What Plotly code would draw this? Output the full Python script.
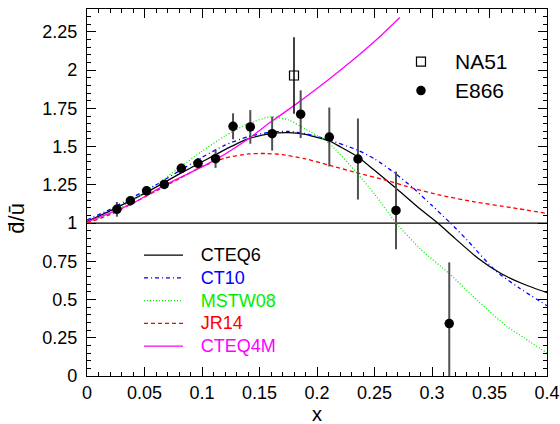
import plotly.graph_objects as go

# ---- data ----
e866_x = [0.026, 0.0377, 0.0518, 0.0672, 0.082, 0.0965, 0.1118, 0.127, 0.142, 0.161, 0.1858, 0.2107, 0.2356, 0.2687, 0.315]
e866_y = [1.09, 1.146, 1.211, 1.253, 1.358, 1.391, 1.421, 1.633, 1.629, 1.585, 1.712, 1.563, 1.419, 1.083, 0.343]
e866_err = [0.048, 0.03, 0.03, 0.03, 0.03, 0.035, 0.06, 0.085, 0.11, 0.111, 0.156, 0.193, 0.265, 0.254, 0.40]

na51_x = [0.18]
na51_y = [1.965]
na51_err = [0.25]

cteq6_x = [0, 0.02, 0.04, 0.06, 0.08, 0.10, 0.12, 0.14, 0.16, 0.175, 0.19, 0.20, 0.21, 0.22, 0.235, 0.25, 0.27, 0.29, 0.305, 0.32, 0.34, 0.36, 0.38, 0.40]
cteq6_y = [1.01, 1.08, 1.155, 1.235, 1.32, 1.40, 1.48, 1.55, 1.585, 1.592, 1.58, 1.56, 1.54, 1.50, 1.435, 1.345, 1.22, 1.09, 1.0, 0.90, 0.77, 0.67, 0.60, 0.545]

ct10_x = [0, 0.02, 0.04, 0.06, 0.08, 0.10, 0.12, 0.14, 0.16, 0.175, 0.19, 0.21, 0.235, 0.25, 0.268, 0.284, 0.30, 0.316, 0.33, 0.355, 0.375, 0.40]
ct10_y = [1.02, 1.09, 1.17, 1.25, 1.34, 1.43, 1.51, 1.565, 1.595, 1.60, 1.585, 1.545, 1.478, 1.42, 1.325, 1.227, 1.115, 1.0, 0.893, 0.69, 0.58, 0.46]

mstw08_x = [0, 0.02, 0.04, 0.06, 0.08, 0.10, 0.12, 0.14, 0.16, 0.175, 0.19, 0.21, 0.235, 0.25, 0.27, 0.29, 0.315, 0.34, 0.365, 0.38, 0.40]
mstw08_y = [1.0, 1.065, 1.15, 1.25, 1.36, 1.47, 1.57, 1.65, 1.695, 1.675, 1.615, 1.525, 1.325, 1.19, 0.99, 0.83, 0.67, 0.49, 0.325, 0.25, 0.15]

jr14_x = [0, 0.02, 0.04, 0.06, 0.08, 0.10, 0.12, 0.14, 0.155, 0.17, 0.19, 0.21, 0.235, 0.26, 0.284, 0.307, 0.336, 0.37, 0.40]
jr14_y = [1.0, 1.055, 1.13, 1.21, 1.29, 1.37, 1.425, 1.452, 1.455, 1.448, 1.42, 1.38, 1.328, 1.28, 1.227, 1.183, 1.14, 1.10, 1.063]

cteq4m_x = [0, 0.02, 0.04, 0.0667, 0.09, 0.112, 0.142, 0.16, 0.18, 0.20, 0.22, 0.24, 0.255, 0.272]
cteq4m_y = [1.008, 1.065, 1.13, 1.245, 1.33, 1.415, 1.56, 1.662, 1.768, 1.88, 1.998, 2.122, 2.222, 2.345]

unity_x = [0, 0.4]
unity_y = [1, 1]

x_ticks = [0, 0.05, 0.1, 0.15, 0.2, 0.25, 0.3, 0.35, 0.4]
x_tick_text = ["0", "0.05", "0.1", "0.15", "0.2", "0.25", "0.3", "0.35", "0.4"]
y_ticks = [0, 0.25, 0.5, 0.75, 1, 1.25, 1.5, 1.75, 2, 2.25]
y_tick_text = ["0", "0.25", "0.5", "0.75", "1", "1.25", "1.5", "1.75", "2", "2.25"]

FONT = "Liberation Sans, Arial, sans-serif"

fig = go.Figure()

fig.add_trace(go.Scatter(x=unity_x, y=unity_y, mode="lines", line=dict(color="black", width=1.2),
                         showlegend=False, hoverinfo="skip"))

curves = [
    ("CTEQ6", cteq6_x, cteq6_y, "#000000", "solid"),
    ("CT10", ct10_x, ct10_y, "#0000ff", "4px,3px,1px,3px"),
    ("MSTW08", mstw08_x, mstw08_y, "#00ee00", "1px,2px"),
    ("JR14", jr14_x, jr14_y, "#ff0000", "4px,3px"),
    ("CTEQ4M", cteq4m_x, cteq4m_y, "#ff00ff", "solid"),
]
for name, xs, ys, col, dash in curves:
    fig.add_trace(go.Scatter(
        x=xs, y=ys, mode="lines", line=dict(color=col, width=1.3, dash=dash, shape="spline", smoothing=0.6),
        name=f'\u2002\u2004<span style="color:{col};font-size:18px">{name}</span>', legend="legend"))

fig.add_trace(go.Scatter(
    x=na51_x, y=na51_y, mode="markers", name='\u2005<span style="font-size:21px">NA51</span>', legend="legend2",
    marker=dict(symbol="square-open", size=9, color="black", line=dict(width=1.2)),
    error_y=dict(type="data", array=na51_err, visible=True, color="black", thickness=1.5, width=0)))

fig.add_trace(go.Scatter(
    x=e866_x, y=e866_y, mode="markers", name='\u2005<span style="font-size:21px">E866</span>', legend="legend2",
    marker=dict(symbol="circle", size=9.5, color="black"),
    error_y=dict(type="data", array=e866_err, visible=True, color="#505050", thickness=2, width=0)))

axis_common = dict(
    showline=True, linecolor="black", linewidth=1.2, mirror="allticks",
    ticks="inside", ticklen=9, tickwidth=1, tickcolor="black",
    showgrid=False, zeroline=False,
    tickfont=dict(family=FONT, size=18, color="black"),
)

fig.update_xaxes(range=[0, 0.4], tickmode="array", tickvals=x_ticks, ticktext=x_tick_text,
                 minor=dict(dtick=0.01, ticks="inside", ticklen=4, tickcolor="black", tickwidth=1),
                 **axis_common)
fig.update_yaxes(range=[0, 2.4], tickmode="array", tickvals=y_ticks, ticktext=y_tick_text,
                 ticklabelstandoff=5,
                 minor=dict(dtick=0.05, ticks="inside", ticklen=4, tickcolor="black", tickwidth=1),
                 **axis_common)

fig.update_layout(
    width=560, height=424,
    margin=dict(l=87, r=13, t=9, b=48, autoexpand=False),
    paper_bgcolor="white", plot_bgcolor="white",
    font=dict(family=FONT, color="black"),
    legend=dict(x=0.113, y=0.374, xanchor="left", yanchor="top", bgcolor="rgba(0,0,0,0)",
                font=dict(family=FONT, size=15.2), itemwidth=39, tracegroupgap=0, traceorder="normal"),
    legend2=dict(x=0.663, y=0.91, xanchor="left", yanchor="top", bgcolor="rgba(0,0,0,0)",
                 font=dict(family=FONT, size=20), itemwidth=48, tracegroupgap=0, traceorder="normal"),
    annotations=[
        dict(text="x", xref="paper", yref="paper", x=0.5, y=-0.1035, xanchor="center", yanchor="middle",
             showarrow=False, font=dict(family=FONT, size=20)),
        dict(text="d\u0304/\u016b", xref="paper", yref="y", x=-0.154, y=1.03, xanchor="center", yanchor="middle",
             textangle=-90, showarrow=False, font=dict(family=FONT, size=22)),
    ],
)

fig.write_html("out.html", config={"displayModeBar": False},
               post_script="document.body.style.margin='0';document.body.style.padding='0';")
